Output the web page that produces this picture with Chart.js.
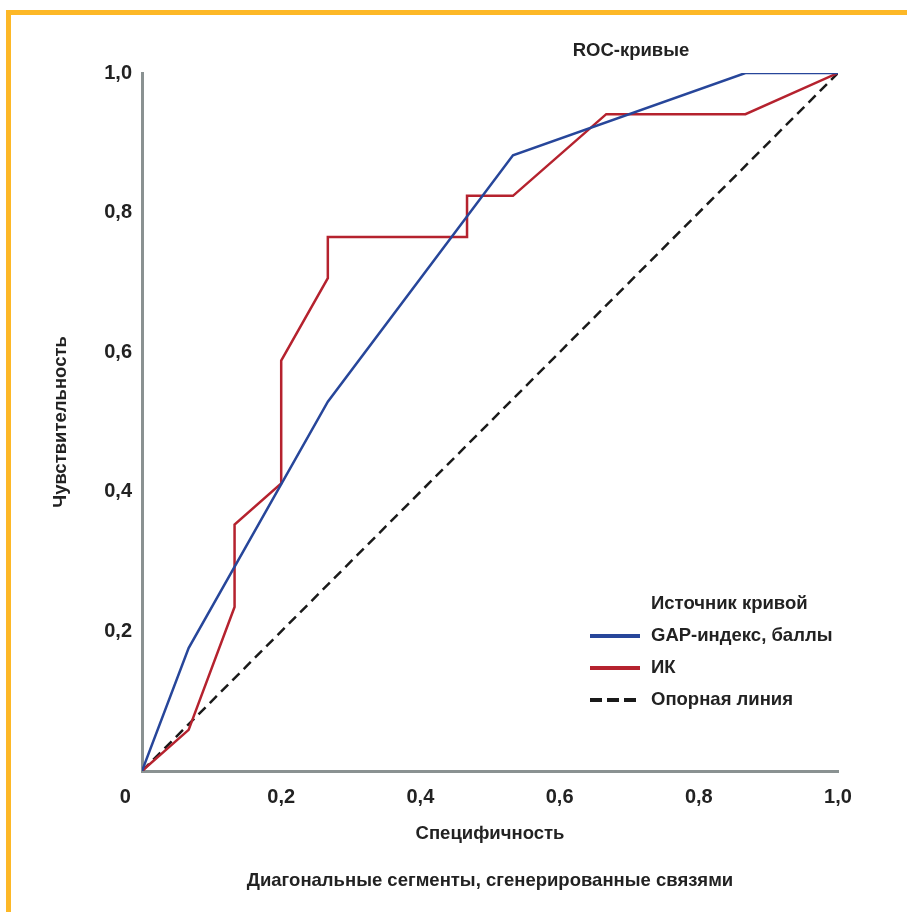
<!DOCTYPE html>
<html>
<head>
<meta charset="utf-8">
<script src="https://cdn.jsdelivr.net/npm/chart.js@4/dist/chart.umd.min.js"></script>
<style>
  html, body { margin: 0; padding: 0; background: #fff; }
  #wrap { position: relative; width: 907px; height: 912px; }
  #frame {
    position: absolute; left: 6px; top: 10px; right: 0; bottom: 0;
    border-top: 5px solid #fdb827; border-left: 5px solid #fdb827;
    pointer-events: none;
  }
</style>
</head>
<body>
<div id="wrap">
  <canvas id="roc" width="907" height="912"></canvas>
  <div id="frame"></div>
</div>
<script>
// ROC curves: x = 1 - specificity, y = sensitivity
const gapX = [0, 0.067, 0.267, 0.533, 0.867, 1.0];
const gapY = [0, 0.176, 0.529, 0.882, 1.0, 1.0];

const ikX = [0, 0.067, 0.133, 0.133, 0.2, 0.2, 0.267, 0.267, 0.467, 0.467, 0.533, 0.667, 0.867, 1.0];
const ikY = [0, 0.059, 0.235, 0.353, 0.412, 0.588, 0.706, 0.765, 0.765, 0.824, 0.824, 0.941, 0.941, 1.0];

const refX = [0, 1];
const refY = [0, 1];

const xTicks = [0, 0.2, 0.4, 0.6, 0.8, 1.0];
const yTicks = [0.2, 0.4, 0.6, 0.8, 1.0];

const seriesNames = ["GAP-индекс, баллы", "ИК", "Опорная линия"];

const FONT = "'Liberation Sans Narrow', 'Arial Narrow', 'Liberation Sans', sans-serif";
const TEXT = 18.5;
const toPoints = (xs, ys) => xs.map((x, i) => ({ x: x, y: ys[i] }));
const fmt = (v) => v === 0 ? "0" : v.toFixed(1).replace(".", ",");

// title and in-plot legend
const overlay = {
  id: "overlay",
  afterDraw(chart) {
    const ctx = chart.ctx;
    ctx.save();
    ctx.fillStyle = "#222";
    ctx.font = "bold " + TEXT + "px " + FONT;
    ctx.textBaseline = "middle";
    ctx.textAlign = "center";
    ctx.fillText("ROC-кривые", 631, 51);

    ctx.textAlign = "left";
    ctx.fillText("Источник кривой", 651, 604);
    chart.data.datasets.forEach((ds, i) => {
      const y = 636 + i * 32;
      ctx.beginPath();
      ctx.strokeStyle = ds.borderColor;
      ctx.lineWidth = 4;
      ctx.setLineDash(ds.borderDash && ds.borderDash.length ? [12, 5] : []);
      ctx.moveTo(590, y);
      ctx.lineTo(640, y);
      ctx.stroke();
      ctx.fillText(ds.label, 651, y);
    });
    ctx.restore();
  }
};

new Chart(document.getElementById("roc"), {
  type: "scatter",
  data: {
    datasets: [
      {
        label: seriesNames[0],
        data: toPoints(gapX, gapY),
        borderColor: "#27469a",
        borderWidth: 2.5,
      },
      {
        label: seriesNames[1],
        data: toPoints(ikX, ikY),
        borderColor: "#b5222e",
        borderWidth: 2.5,
      },
      {
        label: seriesNames[2],
        data: toPoints(refX, refY),
        borderColor: "#1a1a1a",
        borderWidth: 2.5,
        borderDash: [10, 6],
      },
    ].map((d) => Object.assign(d, { showLine: true, pointRadius: 0, tension: 0, fill: false })),
  },
  options: {
    responsive: false,
    animation: false,
    layout: { padding: { top: 73, right: 69, left: 0, bottom: 0 } },
    plugins: {
      legend: { display: false },
      tooltip: { enabled: false },
      title: { display: false },
    },
    scales: {
      x: {
        type: "linear",
        min: 0,
        max: 1,
        afterFit: (s) => { s.height = 141; },
        afterBuildTicks: (s) => { s.ticks = xTicks.map((v) => ({ value: v })); },
        grid: { display: true, drawOnChartArea: false, drawTicks: false, color: "transparent" },
        border: { display: true, color: "#8a9292", width: 3 },
        ticks: {
          padding: 14,
          color: "#222",
          font: { family: FONT, size: 20, weight: "bold" },
          callback: (v) => v === 0 ? "0      " : fmt(v),
        },
        title: {
          display: true,
          text: ["Специфичность", "Диагональные сегменты, сгенерированные связями"],
          color: "#222",
          font: { family: FONT, size: TEXT, weight: "bold", lineHeight: "47px" },
          padding: { top: 0, bottom: 8 },
        },
      },
      y: {
        type: "linear",
        min: 0,
        max: 1,
        afterFit: (s) => { s.width = 142; },
        afterBuildTicks: (s) => { s.ticks = yTicks.map((v) => ({ value: v })); },
        grid: { display: true, drawOnChartArea: false, drawTicks: false, color: "transparent" },
        border: { display: true, color: "#8a9292", width: 3 },
        ticks: {
          padding: 10,
          color: "#222",
          font: { family: FONT, size: 20, weight: "bold" },
          callback: (v) => fmt(v),
        },
        title: {
          display: true,
          text: "Чувствительность",
          color: "#222",
          font: { family: FONT, size: TEXT, weight: "bold" },
          padding: { top: 50, bottom: 0 },
        },
      },
    },
  },
  plugins: [overlay],
});
</script>
</body>
</html>
